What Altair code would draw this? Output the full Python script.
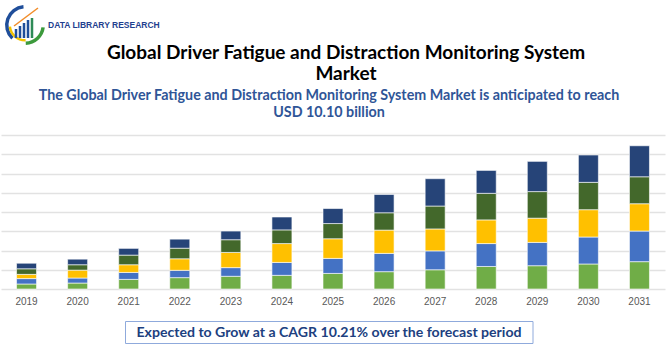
import altair as alt
import pandas as pd

# ---- data (in gridline units) ----
years = ["2019", "2020", "2021", "2022", "2023", "2024", "2025",
         "2026", "2027", "2028", "2029", "2030", "2031"]
seg1 = [0.26, 0.31, 0.50, 0.59, 0.66, 0.71, 0.81, 0.90, 1.00, 1.17, 1.21, 1.30, 1.42]
seg2 = [0.28, 0.26, 0.36, 0.38, 0.45, 0.67, 0.78, 0.95, 0.98, 1.19, 1.21, 1.40, 1.59]
seg3 = [0.22, 0.41, 0.40, 0.60, 0.79, 0.98, 1.02, 1.21, 1.14, 1.23, 1.26, 1.42, 1.42]
seg4 = [0.29, 0.28, 0.50, 0.55, 0.66, 0.71, 0.79, 0.90, 1.19, 1.38, 1.38, 1.42, 1.40]
seg5 = [0.29, 0.29, 0.35, 0.47, 0.45, 0.67, 0.78, 0.95, 1.42, 1.19, 1.57, 1.42, 1.61]
segments = ["Segment 1", "Segment 2", "Segment 3", "Segment 4", "Segment 5"]
colors = ["#70AD47", "#4472C4", "#FFC000", "#43682B", "#264478"]

title_line1 = "Global Driver Fatigue and Distraction Monitoring System"
title_line2 = "Market"
subtitle_line1 = "The Global Driver Fatigue and Distraction Monitoring System Market is anticipated to reach"
subtitle_line2 = "USD 10.10 billion"
cagr_text = "Expected to Grow at a CAGR 10.21% over the forecast period"
brand_text = "DATA LIBRARY RESEARCH"

rows = []
for s_i, (name, vals) in enumerate(zip(segments, [seg1, seg2, seg3, seg4, seg5])):
    for y, v in zip(years, vals):
        rows.append({"year": y, "segment": name, "value": v, "order": s_i})
df = pd.DataFrame(rows)

W, H = 664, 154

bars = alt.Chart(df).mark_bar(width=20, stroke="white", strokeWidth=0.6).encode(
    x=alt.X("year:N", sort=years,
            scale=alt.Scale(paddingInner=0, paddingOuter=0),
            axis=alt.Axis(title=None, labelAngle=0, ticks=False, domain=False,
                          labelColor="#595959", labelFontSize=10, labelFont="Liberation Sans",
                          labelPadding=7)),
    y=alt.Y("value:Q", stack="zero",
            scale=alt.Scale(domain=[0, 8], nice=False),
            axis=alt.Axis(title=None, labels=False, ticks=False, domain=False,
                          values=list(range(9)), gridColor="#e2e2e2", gridWidth=1.5)),
    color=alt.Color("segment:N", scale=alt.Scale(domain=segments, range=colors), legend=None),
    order=alt.Order("order:Q"),
)

def text_layer(txt, x, y, **kw):
    return alt.Chart(pd.DataFrame({"t": [txt]})).mark_text(**kw).encode(
        x=alt.value(x), y=alt.value(y), text="t:N")

tstyle = dict(font="Lato", fontWeight="bold", fontSize=19, color="#000000",
              align="center", baseline="alphabetic")
title1 = text_layer(title_line1, 345, -76, **tstyle)
title2 = text_layer(title_line2, 345, -55, **tstyle)
sstyle = dict(font="Lato", fontWeight="bold", fontSize=14.3, color="#2F5597",
              align="center", baseline="alphabetic")
subtitle1 = text_layer(subtitle_line1, 328, -35, **sstyle)
subtitle2 = text_layer(subtitle_line2, 328, -18, **sstyle)

box = alt.Chart(pd.DataFrame({"a": [0]})).mark_rect(
    fill="white", stroke="#8FAADC", strokeWidth=1).encode(
    x=alt.value(124.5), x2=alt.value(532), y=alt.value(186.5), y2=alt.value(208.5))
cagr = text_layer(cagr_text, 328, 202, font="Lato", fontWeight="bold", fontSize=14.1,
                  color="#203F7F", align="center", baseline="alphabetic")

# logo (decorative)
logo_df = pd.DataFrame({"a": [0]})
cx, cy = 24, -110
arc_blue = alt.Chart(logo_df).mark_arc(radius=20, radius2=16.5, theta=3.9, theta2=6.2,
                                       color="#1F4E9A").encode(x=alt.value(cx), y=alt.value(cy))
arc_yellow = alt.Chart(logo_df).mark_arc(radius=16.5, radius2=14, theta=3.1, theta2=4.6,
                                         color="#F2C200").encode(x=alt.value(cx), y=alt.value(cy))
arc_green = alt.Chart(logo_df).mark_arc(radius=20, radius2=16.5, theta=1.7, theta2=3.1,
                                        color="#3C9A3C").encode(x=alt.value(cx), y=alt.value(cy))
logo_bars = []
for bx, by, bc in [(15, -106, "#1F4E9A"), (19, -109, "#1F4E9A"), (23, -112, "#1F4E9A"),
                   (27, -115, "#1F4E9A"), (31, -117, "#2E8B57")]:
    logo_bars.append(alt.Chart(logo_df).mark_rule(color=bc, strokeWidth=2.5).encode(
        x=alt.value(bx), y=alt.value(by), y2=alt.value(-97)))
arrow = alt.Chart(logo_df).mark_rule(color="#F28C28", strokeWidth=1.5).encode(
    x=alt.value(13), x2=alt.value(37), y=alt.value(-109), y2=alt.value(-127))
brand = text_layer(brand_text, 47, -107, font="Liberation Sans", fontWeight="bold", fontSize=8.5,
                   color="#1F3F8F", align="left", baseline="alphabetic")

chart = alt.layer(bars, title1, title2, subtitle1, subtitle2, box, cagr,
                  arc_blue, arc_yellow, arc_green,
                  *logo_bars, arrow, brand).properties(
    width=W, height=H,
    autosize=alt.AutoSizeParams(type="none"),
    padding={"left": 1, "top": 135, "right": 5, "bottom": 61},
    background="white",
).configure_view(stroke=None)

chart.save("out.html", embed_options={"renderer": "svg", "actions": False})
